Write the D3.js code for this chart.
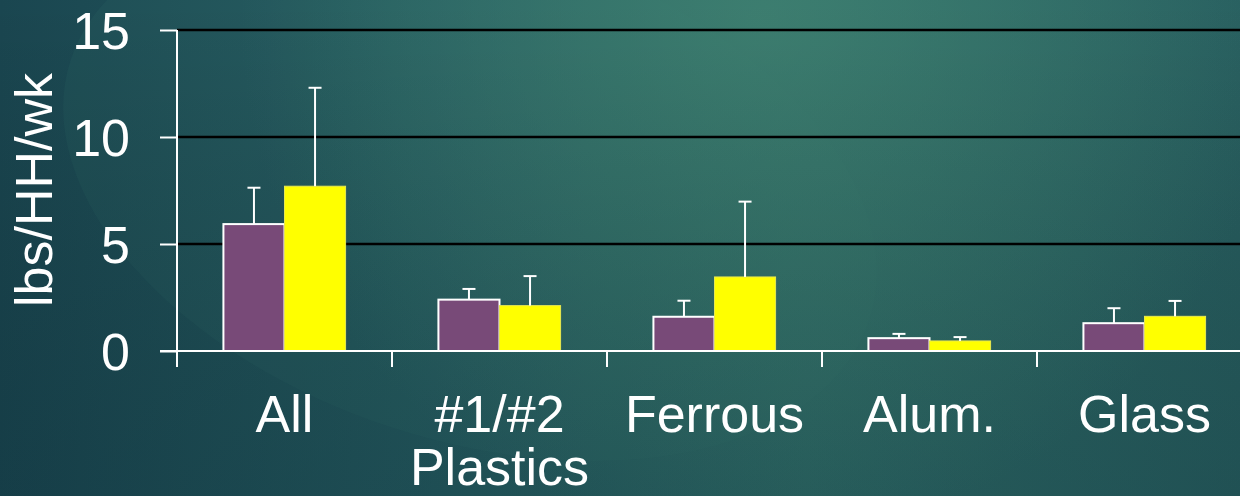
<!DOCTYPE html>
<html>
<head>
<meta charset="utf-8">
<script src="https://cdn.jsdelivr.net/npm/d3@7"></script>
<style>
  html, body { margin: 0; padding: 0; background: #1f5058; }
  svg { display: block; font-family: "Liberation Sans", Arial, sans-serif; }
</style>
</head>
<body>
<div id="chart"></div>
<script>
    const width = 1240, height = 496;

    // data
    const categories = ["All", "#1/#2 Plastics", "Ferrous", "Alum.", "Glass"];
    const categoryLines = [["All"], ["#1/#2", "Plastics"], ["Ferrous"], ["Alum."], ["Glass"]];
    const seriesNames = ["first", "second"];
    const firstValues = [5.93, 2.4, 1.6, 0.6, 1.3];
    const firstErrors = [1.7, 0.5, 0.75, 0.2, 0.7];
    const secondValues = [7.7, 2.12, 3.46, 0.47, 1.62];
    const secondErrors = [4.6, 1.38, 3.52, 0.18, 0.72];
    const yTicks = [0, 5, 10, 15];
    const yTitle = "lbs/HH/wk";

    const colors = { first: "#784a78", second: "#ffff00" };

    const rows = categories.map((c, i) => ({
        cat: c,
        lines: categoryLines[i],
        bars: [
            { key: "first", value: firstValues[i], err: firstErrors[i] },
            { key: "second", value: secondValues[i], err: secondErrors[i] }
        ]
    }));

    const svg = d3.select("#chart").append("svg")
        .attr("width", width)
        .attr("height", height);

    // background
    const defs = svg.append("defs");
    const lg = defs.append("linearGradient").attr("id", "bg")
        .attr("x1", 0).attr("y1", 0).attr("x2", 1).attr("y2", 0);
    lg.append("stop").attr("offset", "0%").attr("stop-color", "#1a4650");
    lg.append("stop").attr("offset", "35%").attr("stop-color", "#255b60");
    lg.append("stop").attr("offset", "65%").attr("stop-color", "#2f6c68");
    lg.append("stop").attr("offset", "100%").attr("stop-color", "#285f60");

    const rg = defs.append("radialGradient").attr("id", "glow")
        .attr("gradientUnits", "userSpaceOnUse")
        .attr("cx", 760).attr("cy", 20).attr("r", 520);
    rg.append("stop").attr("offset", "0%").attr("stop-color", "#3f8171").attr("stop-opacity", 0.85);
    rg.append("stop").attr("offset", "100%").attr("stop-color", "#3f8171").attr("stop-opacity", 0);

    const vg = defs.append("linearGradient").attr("id", "shade")
        .attr("x1", 0).attr("y1", 0).attr("x2", 0).attr("y2", 1);
    vg.append("stop").attr("offset", "0%").attr("stop-color", "#000").attr("stop-opacity", 0);
    vg.append("stop").attr("offset", "100%").attr("stop-color", "#06202a").attr("stop-opacity", 0.22);

    svg.append("rect").attr("width", width).attr("height", height).attr("fill", "url(#bg)");
    svg.append("ellipse")
        .attr("cx", 470).attr("cy", 190).attr("rx", 420).attr("ry", 250)
        .attr("transform", "rotate(18, 470, 190)")
        .attr("fill", "#3c7c74").attr("opacity", 0.12);
    svg.append("rect").attr("width", width).attr("height", height).attr("fill", "url(#glow)");
    svg.append("rect").attr("width", width).attr("height", height).attr("fill", "url(#shade)");

    // scales
    const x = d3.scaleBand().domain(categories).range([177, 1252]).padding(0);
    const x1 = d3.scaleBand().domain(seriesNames).range([0, x.bandwidth()])
        .paddingInner(0).paddingOuter(0.76);
    const y = d3.scaleLinear().domain([0, 15]).range([351, 30]);

    // gridlines
    svg.append("g").selectAll("line")
        .data(yTicks.filter(t => t > 0))
        .join("line")
        .attr("x1", x.range()[0]).attr("x2", width)
        .attr("y1", d => y(d)).attr("y2", d => y(d))
        .attr("stroke", "#000").attr("stroke-width", 2.5);

    // bars
    const groups = svg.append("g").selectAll("g")
        .data(rows)
        .join("g")
        .attr("transform", d => `translate(${x(d.cat)},0)`);

    groups.selectAll("rect")
        .data(d => d.bars)
        .join("rect")
        .attr("x", d => x1(d.key))
        .attr("y", d => y(d.value))
        .attr("width", x1.bandwidth())
        .attr("height", d => y(0) - y(d.value))
        .attr("fill", d => colors[d.key])
        .attr("stroke", d => d.key === "first" ? "#fff" : "#e8e850")
        .attr("stroke-width", d => d.key === "first" ? 2 : 1);

    // error bars (upper only)
    const eb = groups.selectAll("g.err")
        .data(d => d.bars)
        .join("g").attr("class", "err")
        .attr("stroke", "#fff").attr("stroke-width", 2);
    eb.append("line")
        .attr("x1", d => x1(d.key) + x1.bandwidth() / 2)
        .attr("x2", d => x1(d.key) + x1.bandwidth() / 2)
        .attr("y1", d => y(d.value))
        .attr("y2", d => y(d.value + d.err));
    eb.append("line")
        .attr("x1", d => x1(d.key) + x1.bandwidth() / 2 - 6.5)
        .attr("x2", d => x1(d.key) + x1.bandwidth() / 2 + 6.5)
        .attr("y1", d => y(d.value + d.err))
        .attr("y2", d => y(d.value + d.err));

    // y axis
    const yAxis = svg.append("g")
        .attr("transform", `translate(${x.range()[0]},0)`)
        .call(d3.axisLeft(y).tickValues(yTicks).tickSize(17).tickPadding(30));
    yAxis.select(".domain").remove();
    yAxis.selectAll(".tick line").attr("stroke", "#fff").attr("stroke-width", 2);
    yAxis.selectAll(".tick text")
        .attr("fill", "#fff").attr("font-size", 52)
        .attr("font-family", "Liberation Sans, Arial, sans-serif")
        .attr("dy", "0.36em");
    yAxis.append("line")
        .attr("x1", 0).attr("x2", 0)
        .attr("y1", y(15)).attr("y2", y(0) + 16)
        .attr("stroke", "#fff").attr("stroke-width", 2);

    // x axis: baseline, ticks at band edges, labels centred
    svg.append("line")
        .attr("x1", x.range()[0] - 17).attr("x2", width)
        .attr("y1", y(0)).attr("y2", y(0))
        .attr("stroke", "#fff").attr("stroke-width", 2);
    svg.append("g").selectAll("line")
        .data(categories)
        .join("line")
        .attr("x1", d => x(d)).attr("x2", d => x(d))
        .attr("y1", y(0)).attr("y2", y(0) + 16)
        .attr("stroke", "#fff").attr("stroke-width", 2);

    const labels = svg.append("g").selectAll("text")
        .data(rows)
        .join("text")
        .attr("fill", "#fff")
        .attr("font-size", 52)
        .attr("text-anchor", "middle")
        .attr("transform", d => `translate(${x(d.cat) + x.bandwidth() / 2},432)`);
    labels.selectAll("tspan")
        .data(d => d.lines)
        .join("tspan")
        .attr("x", 0)
        .attr("y", (d, i) => i * 53)
        .text(d => d);

    // y title
    svg.append("text")
        .attr("transform", `translate(52,${(72 + 308) / 2}) rotate(-90)`)
        .attr("text-anchor", "middle")
        .attr("fill", "#fff")
        .attr("font-size", 52)
        .text(yTitle);
</script>
</body>
</html>
